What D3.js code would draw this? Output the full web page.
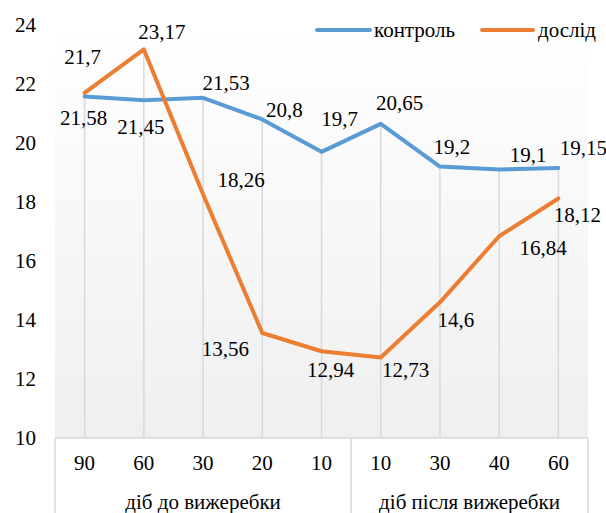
<!DOCTYPE html>
<html><head><meta charset="utf-8">
<script src="https://cdn.jsdelivr.net/npm/d3@7"></script>
</head><body style="margin:0">
<svg id="c" width="606" height="513" style="display:block"></svg>
<script>
const categories = ["90","60","30","20","10","10","30","40","60"];
const groups = [{name:"діб до вижеребки", from:0, to:5},{name:"діб після вижеребки", from:5, to:9}];
const control = [21.58,21.45,21.53,20.8,19.7,20.65,19.2,19.1,19.15];
const experiment = [21.7,23.17,18.26,13.56,12.94,12.73,14.6,16.84,18.12];
const seriesNames = ["контроль","дослід"];
const yTicks = [10,12,14,16,18,20,22,24];

// label placement (offsets from point, px)
const ctrlOff = [[-1,22],[-3,27],[23,-15],[22,-9],[18,-33],[19,-21],[12,-20],[29,-15],[25,-20]];
const expOff = [[-2,-36],[18,-17],[38,-14],[-37,16],[9,19],[25,13],[16,18],[44,12],[19,17]];

const svg = d3.select("#c");
const W=606,H=513, L=55, R=588, T=25, B=438;
const colors = ["#5B9BD5","#ED7D31"];
const grid = "#d9d9d9";
function txt(sel){ sel.style("font-family","Liberation Serif").style("font-size","21px"); }

const x = d3.scaleBand().domain(d3.range(categories.length)).range([L,R]).padding(0);
const cx = i => x(i)+x.bandwidth()/2;
const y = d3.scaleLinear().domain([10,24]).range([B,T]);

const defs = svg.append("defs");
const lg = defs.append("linearGradient").attr("id","bg").attr("x1",0).attr("y1",0).attr("x2",0).attr("y2",1);
lg.append("stop").attr("offset","0%").attr("stop-color","#ffffff");
lg.append("stop").attr("offset","100%").attr("stop-color","#efefef");
svg.append("rect").attr("x",L).attr("y",T).attr("width",R-L).attr("height",B-T).attr("fill","url(#bg)");

// drop lines
svg.append("g").selectAll("line").data(categories).join("line")
  .attr("x1",(d,i)=>cx(i)).attr("x2",(d,i)=>cx(i))
  .attr("y1",(d,i)=>y(Math.max(control[i],experiment[i]))).attr("y2",B)
  .attr("stroke",grid).attr("stroke-width",1.5);

// bottom axis box
const ax = svg.append("g").attr("stroke",grid).attr("stroke-width",1.5);
ax.append("line").attr("x1",L).attr("x2",R).attr("y1",B).attr("y2",B);
const bounds = [L, ...groups.map(g=>x(g.to-1)+x.bandwidth())];
ax.selectAll(".v").data(bounds).join("line").attr("class","v")
  .attr("x1",d=>d).attr("x2",d=>d).attr("y1",B).attr("y2",H);

// y axis labels
svg.append("g").selectAll("text").data(yTicks).join("text")
  .attr("x",36).attr("y",d=>y(d)+7).attr("text-anchor","end").call(txt).text(d=>d);

// category labels
svg.append("g").selectAll("text").data(categories).join("text")
  .attr("x",(d,i)=>cx(i)).attr("y",470).attr("text-anchor","middle").call(txt).text(d=>d);
svg.append("g").selectAll("text").data(groups).join("text")
  .attr("x",g=>(x(g.from)+x(g.to-1)+x.bandwidth())/2).attr("y",509).attr("text-anchor","middle")
  .call(txt).text(g=>g.name);

// lines
const line = d3.line().x((d,i)=>cx(i)).y(d=>y(d));
[control, experiment].forEach((s,k)=>{
  svg.append("path").datum(s).attr("d",line).attr("fill","none")
    .attr("stroke",colors[k]).attr("stroke-width",4).attr("stroke-linejoin","round").attr("stroke-linecap","round");
});

// data labels
const fmt = v => String(v).replace(".",",");
[[control,ctrlOff],[experiment,expOff]].forEach(([s,off])=>{
  svg.append("g").selectAll("text").data(s).join("text")
    .attr("x",(d,i)=>cx(i)+off[i][0]).attr("y",(d,i)=>y(d)+off[i][1]+7)
    .attr("text-anchor","middle").call(txt).text(fmt);
});

// legend
const leg = [{x1:317,x2:370,tx:374},{x1:482,x2:533,tx:538}];
leg.forEach((l,k)=>{
  svg.append("line").attr("x1",l.x1).attr("x2",l.x2).attr("y1",30).attr("y2",30)
    .attr("stroke",colors[k]).attr("stroke-width",4).attr("stroke-linecap","round");
  svg.append("text").attr("x",l.tx).attr("y",37).call(txt).text(seriesNames[k]);
});
</script>
</body></html>
